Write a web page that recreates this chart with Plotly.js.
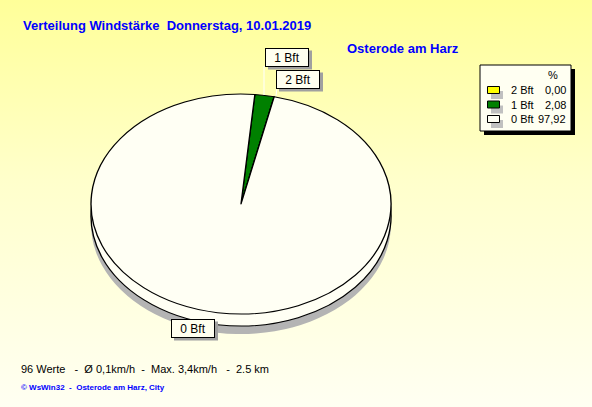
<!DOCTYPE html>
<html>
<head>
<meta charset="utf-8">
<script src="https://cdn.plot.ly/plotly-3.0.1.min.js"></script>
<style>
  html, body { margin:0; padding:0; }
  body { width:592px; height:407px; overflow:hidden; position:relative;
         background: linear-gradient(to bottom, #FFFF99 0%, #FFFFCC 45%, #FFFFF2 100%); }
  #pie, #main { position:absolute; left:0; top:0; width:592px; height:407px; }
  #pie { transform: scaleX(1.3636); transform-origin: 241px 50%; }
</style>
</head>
<body>
<div id="pie"></div>
<div id="main"></div>
<script>
// ---- data ----
const labels = ['2 Bft', '1 Bft', '0 Bft'];
const values = [0.00, 2.08, 97.92];
const colors = ['#FFFF00', '#008000', '#FFFFF4'];
const titleText = 'Verteilung Windstärke  Donnerstag, 10.01.2019';
const stationText = 'Osterode am Harz';
const statsText = '96 Werte   -  Ø 0,1km/h  -  Max. 3,4km/h   -  2.5 km';
const creditText = '© WsWin32  -  Osterode am Harz, City';

// ---- geometry helpers (layout only) ----
const W = 592, H = 407;
const px = x => x / W;
const py = y => 1 - y / H;
const R = 110;
function dom(cx, cy) {
  return { x: [px(cx - R), px(cx + R)], y: [py(cy + R), py(cy - R)] };
}
const nbsp = s => s.replace(/ /g, '\u00A0');

// pie drawing order: 1 Bft, 2 Bft, 0 Bft (clockwise from top)
const order = [1, 0, 2];
const pl = order.map(i => labels[i]);
const pv = order.map(i => values[i]);
const pc = order.map(i => colors[i]);

const common = {
  type: 'pie', labels: pl, values: pv, sort: false, direction: 'clockwise',
  rotation: 5.3, textinfo: 'none', hoverinfo: 'skip', showlegend: false
};
const pieTraces = [
  Object.assign({}, common, { domain: dom(241, 224),
    marker: { colors: pl.map(() => '#B4B4B4'), line: { width: 0 } } }),
  Object.assign({}, common, { domain: dom(241, 216),
    marker: { colors: pl.map(() => '#FFFFF4'), line: { color: '#000', width: 1 } } }),
  Object.assign({}, common, { domain: dom(241, 204),
    marker: { colors: pc, line: { color: '#000', width: 1 } } })
];
Plotly.newPlot('pie', pieTraces, {
  width: W, height: H, margin: { l: 0, r: 0, t: 0, b: 0 },
  paper_bgcolor: 'rgba(0,0,0,0)', plot_bgcolor: 'rgba(0,0,0,0)', showlegend: false
}, { staticPlot: true });

// ---- text, labels, legend ----
const font = 'Liberation Sans, Arial, sans-serif';
const annotations = [];
const shapes = [];

annotations.push({ text: titleText, xref: 'paper', yref: 'paper', x: px(21), y: py(25),
  xanchor: 'left', yanchor: 'middle', showarrow: false,
  font: { family: font, size: 13, color: '#0000FF', weight: 'bold' } });
annotations.push({ text: stationText, xref: 'paper', yref: 'paper', x: px(345), y: py(49),
  xanchor: 'left', yanchor: 'middle', showarrow: false,
  font: { family: font, size: 13, color: '#0000FF', weight: 'bold' } });
annotations.push({ text: nbsp(statsText), xref: 'paper', yref: 'paper', x: px(19), y: py(369),
  xanchor: 'left', yanchor: 'middle', showarrow: false,
  font: { family: font, size: 11, color: '#000000' } });
annotations.push({ text: nbsp(creditText), xref: 'paper', yref: 'paper', x: px(19), y: py(387),
  xanchor: 'left', yanchor: 'middle', showarrow: false,
  font: { family: font, size: 8, color: '#0000FF', weight: 'bold' } });

// pie label boxes (position styling)
const boxPos = { '1 Bft': [287, 57, 264, 66, 264, 95], '2 Bft': [298, 79, 277, 88, 276, 96], '0 Bft': [193, 328, null] };
labels.forEach(l => {
  const b = boxPos[l];
  const bw = 44, bh = 19;
  shapes.push({ type: 'rect', xref: 'paper', yref: 'paper',
    x0: px(b[0] - bw / 2 + 3), x1: px(b[0] + bw / 2 + 3), y0: py(b[1] + bh / 2 + 3), y1: py(b[1] - bh / 2 + 3),
    fillcolor: '#A0A0A0', line: { width: 0 }, layer: 'above' });
  if (b[2] !== null) {
    shapes.push({ type: 'line', xref: 'paper', yref: 'paper', x0: px(b[2]), y0: py(b[3]), x1: px(b[4]), y1: py(b[5]),
      line: { color: '#FFFFFF', width: 1 }, layer: 'above' });
  }
  annotations.push({ text: nbsp(l), xref: 'paper', yref: 'paper', x: px(b[0]), y: py(b[1]),
    xanchor: 'center', yanchor: 'middle', showarrow: false, width: bw - 2, height: bh - 2,
    bgcolor: '#FFFFF0', bordercolor: '#000000', borderwidth: 1, borderpad: 0,
    font: { family: font, size: 12, color: '#000000' } });
});

// custom legend
shapes.push({ type: 'rect', xref: 'paper', yref: 'paper', x0: px(484), x1: px(575), y0: py(135), y1: py(69),
  fillcolor: '#000000', line: { width: 0 }, layer: 'below' });
shapes.push({ type: 'rect', xref: 'paper', yref: 'paper', x0: px(480), x1: px(571), y0: py(131), y1: py(65),
  fillcolor: '#FFFFF2', line: { color: '#000000', width: 1 }, layer: 'below' });
annotations.push({ text: '%', xref: 'paper', yref: 'paper', x: px(553), y: py(75),
  xanchor: 'center', yanchor: 'middle', showarrow: false, font: { family: font, size: 11, color: '#000' } });
labels.forEach((l, i) => {
  const yc = 90 + i * 14.5;
  shapes.push({ type: 'rect', xref: 'paper', yref: 'paper', x0: px(491), x1: px(503), y0: py(yc + 9), y1: py(yc + 1),
    fillcolor: '#C0C0C0', line: { width: 0 }, layer: 'below' });
  shapes.push({ type: 'rect', xref: 'paper', yref: 'paper', x0: px(487.5), x1: px(499.5), y0: py(yc + 3.5), y1: py(yc - 3.5),
    fillcolor: colors[i], line: { color: '#000', width: 1 }, layer: 'below' });
  annotations.push({ text: nbsp(l), xref: 'paper', yref: 'paper', x: px(509), y: py(yc),
    xanchor: 'left', yanchor: 'middle', showarrow: false, font: { family: font, size: 11, color: '#000' } });
  annotations.push({ text: values[i].toFixed(2).replace('.', ','), xref: 'paper', yref: 'paper', x: px(568), y: py(yc),
    xanchor: 'right', yanchor: 'middle', showarrow: false, font: { family: font, size: 11, color: '#000' } });
});

Plotly.newPlot('main', [], {
  width: W, height: H, margin: { l: 0, r: 0, t: 0, b: 0 },
  paper_bgcolor: 'rgba(0,0,0,0)', plot_bgcolor: 'rgba(0,0,0,0)',
  xaxis: { visible: false }, yaxis: { visible: false },
  annotations: annotations, shapes: shapes, showlegend: false
}, { staticPlot: true });
</script>
</body>
</html>
